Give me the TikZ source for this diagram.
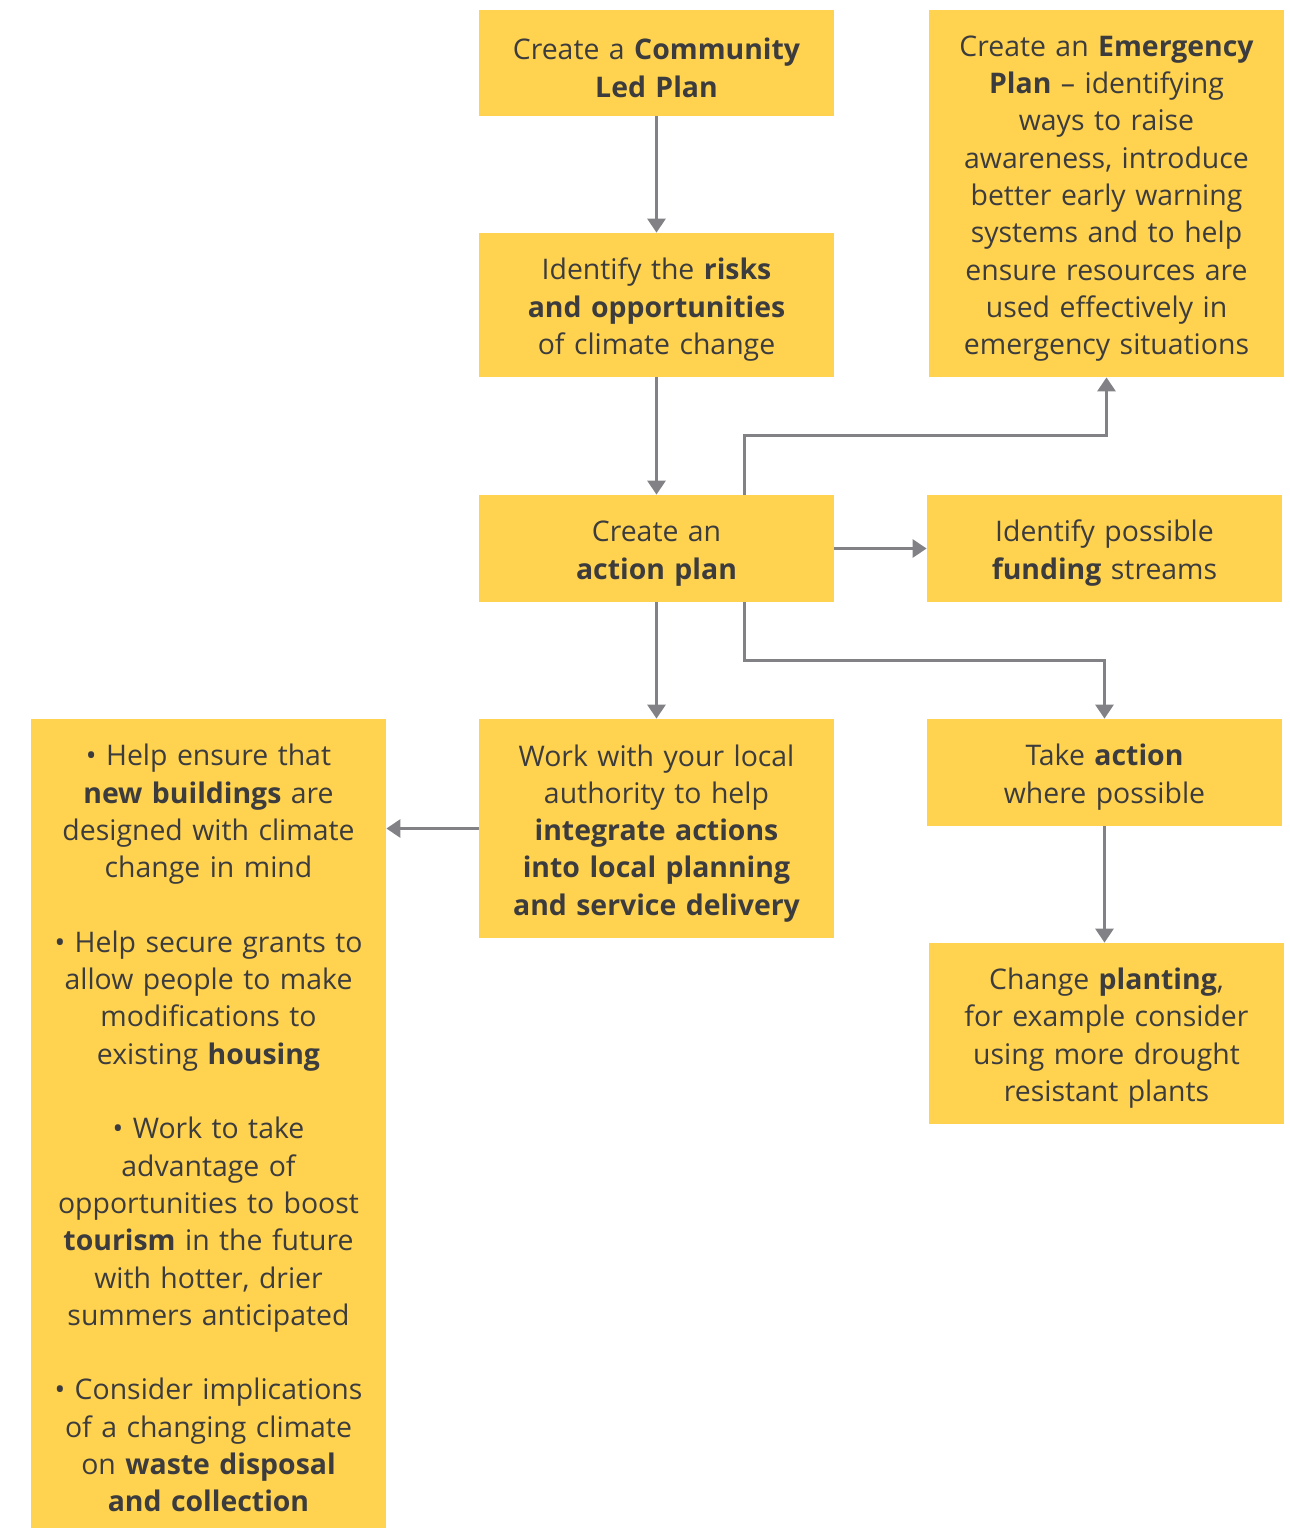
\documentclass[tikz,border=0pt]{standalone}
\usepackage{fontspec}
\setmainfont{Open Sans}
\usetikzlibrary{arrows.meta}

\definecolor{boxyellow}{HTML}{FFD34F}
\definecolor{textgrey}{HTML}{3C3C3E}
\definecolor{linegrey}{HTML}{818186}

\begin{document}
\begin{tikzpicture}[x=0.5pt, y=-0.5pt,
  box/.style={fill=boxyellow, text=textgrey, align=center, inner sep=0pt,
    text width=177.5pt, font=\fontsize{14.2}{18.65}\selectfont,
    execute at begin node={\rule{0pt}{15.5pt}}},
  link/.style={draw=linegrey, line width=1.5pt, -{Triangle[width=9pt, length=7pt]}}]

\useasboundingbox (0,0) rectangle (1290,1528);

% middle column
\node[box, minimum height=53pt] (community) at (656.5, 63)
  {Create a \textbf{Community}\\ \textbf{Led Plan}};
\node[box, minimum height=72pt] (risks) at (656.5, 305)
  {Identify the \textbf{risks}\\ \textbf{and opportunities}\\ of climate change};
\node[box, minimum height=53.5pt] (actionplan) at (656.5, 548.5)
  {Create an\\ \textbf{action plan}};
\node[box, minimum height=109.5pt] (localwork) at (656.5, 828.5)
  {Work with your local\\ authority to help\\ \textbf{integrate actions}\\
   \textbf{into local planning}\\ \textbf{and service delivery}};

% right column
\node[box, minimum height=183.5pt] (emergency) at (1106.5, 193.5)
  {Create an \textbf{Emergency}\\ \textbf{Plan} -- identifying\\ ways to raise\\
   awareness, introduce\\ better early warning\\ systems and to help\\
   ensure resources are\\ used effectively in\\ emergency situations};
\node[box, minimum height=53.5pt] (funding) at (1104.5, 548.5)
  {Identify possible\\ \textbf{funding} streams};
\node[box, minimum height=53.5pt] (takeaction) at (1104.5, 772.5)
  {Take \textbf{action}\\ where possible};
\node[box, minimum height=90.5pt] (planting) at (1106.5, 1033.5)
  {Change \textbf{planting},\\ for example consider\\ using more drought\\ resistant plants};

% left column
\node[box, minimum height=404.5pt] (ideas) at (208.5, 1123.5)
  {\textbullet\ Help ensure that\\ \textbf{new buildings} are\\ designed with climate\\ change in mind\\[18.65pt]
   \textbullet\ Help secure grants to\\ allow people to make\\ modifications to\\ existing \textbf{housing}\\[18.65pt]
   \textbullet\ Work to take\\ advantage of\\ opportunities to boost\\ \textbf{tourism} in the future\\
   with hotter, drier\\ summers anticipated\\[18.65pt]
   \textbullet\ Consider implications\\ of a changing climate\\ on \textbf{waste disposal}\\ \textbf{and collection}};

% arrows
\draw[link] (community) -- (risks);
\draw[link] (risks) -- (actionplan);
\draw[link] ([xshift=43.75pt]actionplan.north) -- ++(0,-59) -| (emergency.south);
\draw[link] (actionplan) -- (funding);
\draw[link] (actionplan) -- (localwork);
\draw[link] ([xshift=43.75pt]actionplan.south) -- ++(0,58) -| (takeaction.north);
\draw[link] (localwork.west) -- (localwork.west -| ideas.east);
\draw[link] (takeaction.south) -- (takeaction.south |- planting.north);

\end{tikzpicture}
\end{document}
